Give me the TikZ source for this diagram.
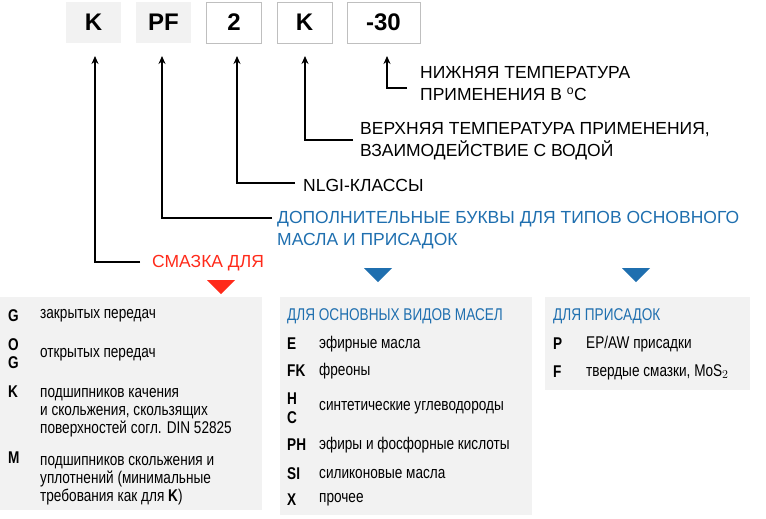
\documentclass[tikz,border=0pt]{standalone}
\usepackage{fontspec}
\setmainfont{Liberation Sans}
\newfontfamily\narrowf[FakeStretch=0.8]{Liberation Sans}
\definecolor{boxgray}{HTML}{F2F2F2}
\definecolor{framegray}{HTML}{BFBFBF}
\definecolor{infoblue}{HTML}{1F6FAF}
\definecolor{markred}{HTML}{FF2A1A}
\tikzset{
  codebox/.style={minimum width=55pt,minimum height=41pt,inner sep=0pt,font=\fontsize{24}{24}\selectfont\bfseries},
  greybox/.style={codebox,fill=boxgray},
  framebox/.style={codebox,draw=framegray,fill=white},
  lead/.style={line width=1.6pt,-{Stealth[length=8pt,width=7pt]}},
  caption/.style={anchor=west,align=left,inner sep=0pt,font=\fontsize{17.5}{22}\selectfont},
  key/.style={anchor=west,inner sep=0pt,font=\narrowf\fontsize{17}{18}\selectfont\bfseries},
  entry/.style={anchor=west,align=left,inner sep=0pt,font=\narrowf\fontsize{17}{18}\selectfont},
  pointer/.style={isosceles triangle,isosceles triangle apex angle=90,shape border rotate=-90,inner sep=0pt,minimum width=28pt,minimum height=13pt}
}
\usetikzlibrary{arrows.meta,shapes.geometric}
\begin{document}
\begin{tikzpicture}[x=1pt,y=-1pt]
  \useasboundingbox (0,0) rectangle (766,519);

  % code boxes
  \node[greybox]  (cK)  at (93.5,22.5)  {K};
  \node[greybox]  (cPF) at (163.5,22.5) {PF};
  \node[framebox] (c2)  at (234,22.5)   {2};
  \node[framebox] (cK2) at (304.5,22.5) {K};
  \node[framebox,minimum width=73pt] (c30) at (383.5,22.5) {-30};

  % corner points of the leads
  \coordinate (bK)  at (95,262);   \coordinate (eK)  at (140,262);
  \coordinate (bPF) at (162,218);  \coordinate (ePF) at (272,218);
  \coordinate (b2)  at (237,183);  \coordinate (e2)  at (295,183);
  \coordinate (bK2) at (305,140);  \coordinate (eK2) at (353,140);
  \coordinate (b30) at (387,88);   \coordinate (e30) at (407,88);

  \draw[lead] (eK)  -- (bK)  -- (95,56);
  \draw[lead] (ePF) -- (bPF) -- (162,56);
  \draw[lead] (e2)  -- (b2)  -- (237,56);
  \draw[lead] (eK2) -- (bK2) -- (305,56);
  \draw[lead] (e30) -- (b30) -- (387,56);

  % captions
  \node[caption] (t30) at (420,84) {НИЖНЯЯ ТЕМПЕРАТУРА\\ПРИМЕНЕНИЯ В $^{\mathrm{o}}$C};
  \node[caption] (tK2) at (360,141) {ВЕРХНЯЯ ТЕМПЕРАТУРА ПРИМЕНЕНИЯ,\\ВЗАИМОДЕЙСТВИЕ С ВОДОЙ};
  \node[caption] (t2)  at (303,185) {NLGI-КЛАССЫ};
  \node[caption,text=infoblue] (tPF) at (277,230) {ДОПОЛНИТЕЛЬНЫЕ БУКВЫ ДЛЯ ТИПОВ ОСНОВНОГО\\МАСЛА И ПРИСАДОК};
  \node[caption,text=markred] (tK) at (152,263) {СМАЗКА ДЛЯ};

  % pointers
  \node[pointer,fill=markred] (pK) at (221,286) {};
  \node[pointer,fill=infoblue] (pOil) at (378,274) {};
  \node[pointer,fill=infoblue] (pAdd) at (636,274) {};

  % panels
  \fill[boxgray] (0,297) rectangle (262,510);
  \fill[boxgray] (280,297) rectangle (532,515);
  \fill[boxgray] (545,297) rectangle (750,390);

  % left panel
  \node[key] (kG) at (8,316) {G};
  \node[entry] (vG) at (40,316) {закрытых передач};
  \node[key] (kO) at (8,345) {O};
  \node[key] (kG2) at (8,363) {G};
  \node[entry] (vOG) at (40,355) {открытых передач};
  \node[key] (kK) at (8,392) {K};
  \node[entry] (vK) at (40,413) {подшипников качения\\и скольжения, скользящих\\поверхностей согл. DIN 52825};
  \node[key] (kM) at (8,458) {M};
  \node[entry] (vM) at (40,481) {подшипников скольжения и\\уплотнений (минимальные\\требования как для \textbf{K})};

  % middle panel
  \node[entry,text=infoblue] (hOil) at (287,316) {ДЛЯ ОСНОВНЫХ ВИДОВ МАСЕЛ};
  \node[key] (kE) at (287,344) {E};
  \node[entry] (vE) at (319,344) {эфирные масла};
  \node[key] (kFK) at (287,371) {FK};
  \node[entry] (vFK) at (319,371) {фреоны};
  \node[key] (kH) at (287,399) {H};
  \node[key] (kC) at (287,418) {C};
  \node[entry] (vHC) at (319,408) {синтетические углеводороды};
  \node[key] (kPH) at (287,445) {PH};
  \node[entry] (vPH) at (319,445) {эфиры и фосфорные кислоты};
  \node[key] (kSI) at (287,474) {SI};
  \node[entry] (vSI) at (319,474) {силиконовые масла};
  \node[key] (kX) at (287,500) {X};
  \node[entry] (vX) at (319,500) {прочее};

  % right panel
  \node[entry,text=infoblue] (hAdd) at (553,316) {ДЛЯ ПРИСАДОК};
  \node[key] (kP) at (553,344) {P};
  \node[entry] (vP) at (586,344) {EP/AW присадки};
  \node[key] (kF) at (553,372) {F};
  \node[entry] (vF) at (586,372) {твердые смазки, MoS$_2$};
\end{tikzpicture}
\end{document}
